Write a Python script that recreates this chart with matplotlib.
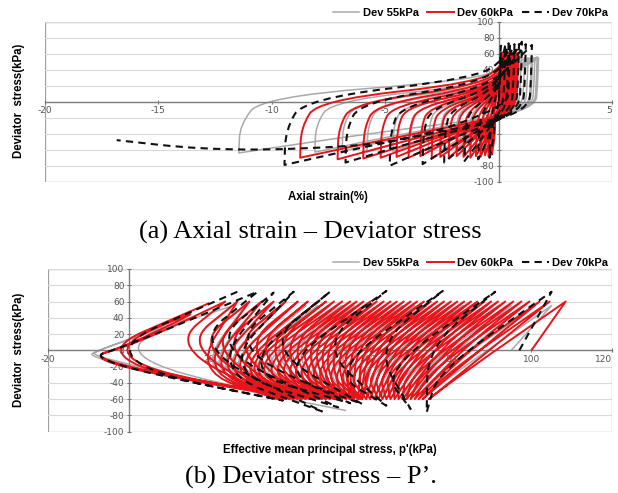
import matplotlib
matplotlib.use('Agg')
import matplotlib.pyplot as plt
from matplotlib.path import Path
from matplotlib.patches import PathPatch, Rectangle
from matplotlib.lines import Line2D

# ---------------- data -----------------
series_labels = ['Dev 55kPa', 'Dev 60kPa', 'Dev 70kPa']

# (a) axial strain (%) vs deviator stress (kPa): compression peaks and extension hooks
grey_peak_eps = [0.2, 0.4, 0.6, 0.85, 1.0, 1.15, 1.3, 1.45, 1.6, 1.7, 1.76, 1.5, 0.4]
grey_peak_q = [55, 56, 55, 55, 56, 55, 55, 56, 55, 56, 55, 56, 55]
grey_hook_eps = [-0.4, -0.8, -1.3, -1.9, -2.6, -3.1, -3.9, -4.66, -5.8, -6.9, -8.1, -11.45]
grey_hook_q = [-58, -60, -61, -60, -62, -61, -63, -62, -63, -62, -63, -64]

red_peak_eps = [0.15, 0.2, 0.25, 0.3, 0.35, 0.4, 0.45, 0.5, 0.55, 0.6, 0.65, 0.7,
                0.75, 0.8, 0.85, 0.87, 0.7, 0.5, 0.35]
red_peak_q = [61, 62, 60, 61, 62, 61, 60, 62, 61, 60, 61, 62, 61, 60, 61, 60, 62, 61, 60]
red_hook_eps = [-0.3, -0.45, -0.6, -0.8, -1.0, -1.25, -1.55, -1.85, -2.2, -2.57, -2.95,
                -3.45, -3.97, -4.5, -5.2, -5.97, -7.1, -8.75]
red_hook_q = [-66, -68, -67, -69, -68, -70, -69, -68, -70, -69, -71, -68, -70, -69, -70,
              -71, -72, -70]

black_peak_eps = [0.1, 0.3, 0.44, 0.7, 1.03, 1.2, 1.47, 0.9, 0.5]
black_peak_q = [70, 72, 73, 72, 75, 72, 71, 72, 70]
black_hook_eps = [-0.4, -0.9, -1.5, -2.4, -3.35, -4.8, -6.75, -9.44]
black_hook_q = [-70, -72, -74, -76, -78, -80, -76, -79]
black_tail_eps = [-4.0, -9.0, -13.16, -16.84]
black_tail_q = [-50, -60, -59.5, -48]

# (b) effective mean principal stress p' (kPa) vs deviator stress (kPa)
grey_start = (95, 0)
grey_p_top = [105, 101, 98, 95, 92, 89, 86, 83, 80, 77, 74, 71, 68, 65, 62, 59, 56, 53,
              50, 47, 44, 41, 38, 35, 32, 29, 26]
grey_q_top = [55] * 27
grey_p_bot = [74, 72, 70, 68, 66, 64.5, 63, 61.5, 60, 58.5, 57, 55.5, 54, 52.5, 51, 49.5,
              48, 46.5, 45, 44, 43, 42, 41, 40, 39, 38]
grey_q_bot = [-55] * 26
grey_bf_p = [26, -7, -10, 52, -8, 24, -7, -11, 54]
grey_bf_q = [55, 2, -8, -72, -6, 55, 2, -10, -74]

red_start = (100, 0)
red_p_top = [108.5, 104.5, 102, 99.5, 97.5, 95.5, 93.5, 91.7, 90, 88.3, 86.6, 85, 83.3,
             81.6, 80, 78.3, 76.6, 75, 73.3, 71.6, 70, 68.3, 66.6, 65, 63.3, 61.6, 60,
             58.3, 56.6, 55, 53, 51, 49, 47, 44.5, 42, 39, 36, 33, 30, 27, 24]
red_q_top = [60] * 42
red_p_bot = [74.5, 73, 72, 71, 70, 69, 68, 67, 66, 65, 64, 63, 62, 61, 60, 59, 58, 57.5,
             57, 56, 55.5, 55, 54, 53, 52, 51.5, 51, 50, 49, 48, 47, 46, 45, 44, 43, 42,
             41, 40, 39, 38, 37]
red_q_bot = [-60] * 41
red_bf_p = [24, 2, -13, 50, -11, 22, 0, -12, 56, -13, 20]
red_bf_q = [60, 8, -13, -66, -11, 60, 6, -12, -70, -13, 58]

black_start = (97, 0)
black_p_top = [105, 91, 78, 64, 50, 41, 36, 32]
black_q_top = [72, 72, 73, 73, 72, 72, 71, 72]
black_p_bot = [74, 70, 64, 58, 55, 52, 48]
black_q_bot = [-76, -72, -68, -66, -65, -70, -75]
black_bf_p = [32, 0, -12, 55, -12, 27]
black_bf_q = [72, 6, -12, -78, -12, 72]

x_ticks_a = [-20, -15, -10, -5, 0, 5]
x_ticks_b = [-20, 0, 20, 40, 60, 80, 100, 120]
y_ticks = [-100, -80, -60, -40, -20, 0, 20, 40, 60, 80, 100]

# ---------------- styles -----------------
GREY = '#a9a9a9'
RED = '#e8141b'
BLACK = '#111111'
styles = [dict(color=GREY, lw=1.1, ls='-'),
          dict(color=RED, lw=1.4, ls='-'),
          dict(color=BLACK, lw=1.5, ls=(0, (3.5, 2.5)))]
SANS = 'Liberation Sans'


def smooth_path(pts):
    verts = [pts[0]]
    codes = [Path.MOVETO]
    for i in range(1, len(pts) - 1):
        mid = ((pts[i][0] + pts[i + 1][0]) / 2, (pts[i][1] + pts[i + 1][1]) / 2)
        verts += [pts[i], mid]
        codes += [Path.CURVE3, Path.CURVE3]
    verts.append(pts[-1])
    codes.append(Path.LINETO)
    return Path(verts, codes)


def strain_loop(peak_eps, peak_q, hook_eps, hook_q):
    pts = [(0.0, 0.0)]
    n = len(hook_eps)
    for k in range(len(peak_eps)):
        c, A = peak_eps[k], peak_q[k]
        if k == 0:
            pts += [(0.5 * c, 0.6 * A)]
        else:
            h, B = hook_eps[k - 1], hook_q[k - 1]
            lift = 0.03 * A * abs(h)
            pts += [(h + 0.04, 0.45 * B),
                    (h + 0.1 + 0.08 * abs(h), 0.2 * B + lift),
                    (0.08 * h - 0.08, min(0.1 * A + 1.15 * lift, 0.6 * A)),
                    (0.7 * c, 0.82 * A)]
        pts += [(c, A), (c, A)]
        if k < n:
            h, B = hook_eps[k], hook_q[k]
            pts += [(c - 0.05, 0.3 * A), (c - 0.12, -0.08 * A), (0.15 * c - 0.2, 0.3 * B),
                    (0.5 * h, 0.62 * B), (h, B), (h, B)]
    return pts


def stress_path(start, p_top, q_top, p_bot, q_bot, su=0.29, sl=0.25):
    pts = [start]
    for k in range(len(p_top)):
        pt, A = p_top[k], q_top[k]
        if k > 0:
            pts += [(pt - sl * (A - 5), 5)]
        pts += [(pt, A), (pt, A)]
        if k < len(p_bot):
            pb, B = p_bot[k], q_bot[k]
            turn = max(pt - su * (A + 25), 0.45 * pt + 4)
            pts += [(turn, -25), (pb, B), (pb, B)]
    return pts


def draw(ax, pts, st, z):
    ax.add_patch(PathPatch(smooth_path(pts), fill=False, ec=st['color'], lw=st['lw'],
                           ls=st['ls'], zorder=z, capstyle='butt', joinstyle='round'))


def style_axes(ax, xlim, xticks):
    ax.set_xlim(*xlim)
    ax.set_ylim(-100, 100)
    ax.set_axisbelow(True)
    for s in ('top', 'right'):
        ax.spines[s].set_visible(False)
    ax.spines['left'].set_position(('data', 0))
    ax.spines['bottom'].set_position(('data', 0))
    for s in ('left', 'bottom'):
        ax.spines[s].set_color('#7f7f7f')
        ax.spines[s].set_linewidth(1.0)
    ax.set_xticks(xticks)
    ax.set_yticks(y_ticks)
    ax.set_xticklabels([str(t) if t != 0 else '' for t in xticks])
    ax.set_yticklabels([str(t) for t in y_ticks])
    ax.tick_params(axis='both', labelsize=6.5, colors='#555555', direction='inout',
                   length=3, width=0.6, pad=1.5)
    xt = ax.get_xticklabels()
    xt[-1].set_horizontalalignment('right')
    ax.yaxis.grid(True, color='#d9d9d9', lw=0.8)
    ax.add_patch(Rectangle((0, 0), 1, 1, transform=ax.transAxes, fill=False,
                           ec='#a0a0a0', lw=0.9, zorder=0.4))


def legend(fig, y):
    handles = [Line2D([], [], **st) for st in styles]
    fig.legend(handles, series_labels, loc='center right', bbox_to_anchor=(0.995, y),
               ncol=3, frameon=False, handlelength=2.4, handletextpad=0.3,
               columnspacing=0.8, borderpad=0.1,
               prop=dict(family=SANS, weight='bold', size=8))


fig = plt.figure(figsize=(6.18, 4.93), dpi=100)

# ---- (a) ----
axa = fig.add_axes([0.0728, 0.6314, 0.9175, 0.3245])
style_axes(axa, (-20, 5), x_ticks_a)
draw(axa, strain_loop(grey_peak_eps, grey_peak_q, grey_hook_eps, grey_hook_q), styles[0], 2)
draw(axa, strain_loop(red_peak_eps, red_peak_q, red_hook_eps, red_hook_q), styles[1], 3)
blk = strain_loop(black_peak_eps, black_peak_q, black_hook_eps, black_hook_q)
last_c, last_A = black_peak_eps[-1], black_peak_q[-1]
blk += [(last_c - 0.05, 0.3 * last_A), (last_c - 0.12, -0.08 * last_A)]
blk += list(zip(black_tail_eps, black_tail_q)) + [(black_tail_eps[-1], black_tail_q[-1])]
draw(axa, blk, styles[2], 4)
legend(fig, 1 - 13 / 493)

# ---- (b) ----
axb = fig.add_axes([0.0777, 0.1243, 0.9126, 0.3301])
style_axes(axb, (-20, 120), x_ticks_b)
g = stress_path(grey_start, grey_p_top, grey_q_top, grey_p_bot, grey_q_bot)
g += [(p, q) for p, q in zip(grey_bf_p, grey_bf_q)]
draw(axb, g, styles[0], 2)
r = stress_path(red_start, red_p_top, red_q_top, red_p_bot, red_q_bot)
r += [(p, q) for p, q in zip(red_bf_p, red_bf_q)]
draw(axb, r, styles[1], 3)
b = stress_path(black_start, black_p_top, black_q_top, black_p_bot, black_q_bot)
b += [(p, q) for p, q in zip(black_bf_p, black_bf_q)]
draw(axb, b, styles[2], 4)
legend(fig, 1 - 263 / 493)

lab = dict(family=SANS, weight='bold', size=8.3)
fig.text(0.030, 1 - 100.5 / 493, 'Deviator  stress(kPa)', rotation=90, ha='center',
         va='center', **lab)
fig.text(0.030, 1 - 350 / 493, 'Deviator  stress(kPa)', rotation=90, ha='center',
         va='center', **lab)
fig.text(0.531, 1 - 197 / 493, 'Axial strain(%)', ha='center', va='center', **lab)
fig.text(0.534, 1 - 450 / 493, "Effective mean principal stress, p'(kPa)", ha='center',
         va='center', **lab)
cap = dict(family='Liberation Serif', size=19)
fig.text(0.502, 1 - 232 / 493, '(a) Axial strain \u2013 Deviator stress', ha='center',
         va='center', **cap)
fig.text(0.503, 1 - 477 / 493, '(b) Deviator stress \u2013 P\u2019.', ha='center',
         va='center', **cap)

fig.savefig('out.png', dpi=100)
